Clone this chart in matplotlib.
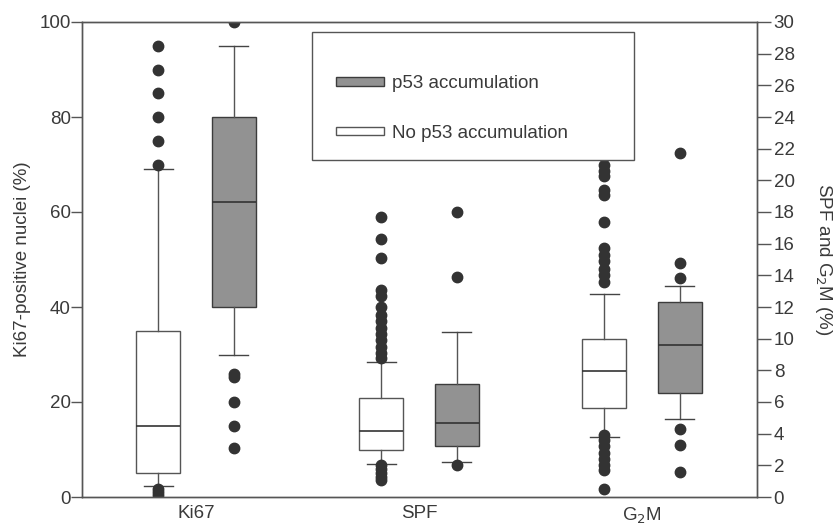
import matplotlib
matplotlib.use("Agg")
import matplotlib.pyplot as plt
from matplotlib.patches import Patch, Rectangle

plt.rcParams['font.family'] = ['Liberation Sans', 'DejaVu Sans']

# ---- data ----
groups = ["Ki67", "SPF", "G$_2$M"]
legend_labels = ["p53 accumulation", "No p53 accumulation"]

# Ki67 (left axis, %)
ki67_no = dict(q1=5.0, med=15.0, q3=35.0, whislo=2.3, whishi=69.0,
               fliers=[95, 90, 85, 80, 75, 70, 1.6, 1.0, 0.5])
ki67_p53 = dict(q1=40.0, med=62.2, q3=80.0, whislo=30.0, whishi=95.0,
                fliers=[100, 26, 25.3, 20, 15, 10.3])
# SPF (right axis, %)
spf_no = dict(q1=2.97, med=4.17, q3=6.25, whislo=2.08, whishi=8.5,
              fliers=[17.7, 16.3, 15.1, 13.1, 12.7, 12.0, 11.5, 11.1, 10.7,
                      10.3, 9.9, 9.5, 9.1, 8.8, 2.0, 1.75, 1.5, 1.25, 1.05])
spf_p53 = dict(q1=3.22, med=4.67, q3=7.14, whislo=2.2, whishi=10.4,
               fliers=[18.0, 13.9, 2.0])
# G2M (right axis, %)
g2m_no = dict(q1=5.65, med=7.98, q3=10.0, whislo=3.8, whishi=12.8,
              fliers=[21.0, 20.6, 20.3, 19.4, 19.1, 17.4, 15.7, 15.3, 14.9,
                      14.4, 14.0, 13.6, 3.9, 3.6, 3.2, 2.8, 2.4, 2.0, 1.7, 0.5])
g2m_p53 = dict(q1=6.55, med=9.6, q3=12.3, whislo=4.9, whishi=13.35,
               fliers=[21.7, 14.8, 13.85, 4.3, 3.3, 1.6])

left_ticks = [0, 20, 40, 60, 80, 100]
right_ticks = list(range(0, 31, 2))

# ---- styles ----
GRAY = '#929292'
EDGE = '#3c3c3c'
TXT = '#3a3a3a'
offset = 0.17
width = 0.20
capw = 0.13

fig = plt.figure(figsize=(8.37, 5.25), dpi=100)
ax = fig.add_axes([82/837, 1-497/525, (757-82)/837, (497-22)/525])
ax2 = ax.twinx()

common = dict(widths=width, capwidths=capw, patch_artist=True,
              whiskerprops=dict(color='#555555', lw=1.0),
              capprops=dict(color='#444444', lw=1.0),
              medianprops=dict(color='#333333', lw=1.2),
              flierprops=dict(marker='o', markersize=7.5,
                              markerfacecolor='#333333', markeredgecolor='#333333'))

def draw(axis, st, pos, fill):
    bp = axis.bxp([st], positions=[pos], **common)
    for b in bp['boxes']:
        b.set_facecolor(fill)
        b.set_edgecolor(EDGE if fill != 'white' else '#555555')
        b.set_linewidth(1.0)
    return bp

draw(ax, ki67_no, 1 - offset, 'white')
draw(ax, ki67_p53, 1 + offset, GRAY)
draw(ax2, spf_no, 2 - offset, 'white')
draw(ax2, spf_p53, 2 + offset, GRAY)
draw(ax2, g2m_no, 3 - offset, 'white')
draw(ax2, g2m_p53, 3 + offset, GRAY)

for a in (ax, ax2):
    a.set_xlim(0.489, 3.516)
ax.set_ylim(0, 100)
ax2.set_ylim(0, 30)

ax.set_xticks([1, 2, 3])
ax.set_xticklabels(groups, fontsize=13.5, color=TXT)
ax.tick_params(axis='x', length=0, pad=6)
ax.set_yticks(left_ticks)
ax.set_yticklabels([str(t) for t in left_ticks], fontsize=13.5, color=TXT)
ax.tick_params(axis='y', direction='out', length=8, width=1, color='#555555', pad=0)
ax2.set_yticks(right_ticks)
ax2.set_yticklabels([str(t) for t in right_ticks], fontsize=13.5, color=TXT)
ax2.tick_params(axis='y', direction='out', length=10, width=1, color='#555555', pad=2)

for a in (ax, ax2):
    for s in a.spines.values():
        s.set_color('#555555')
        s.set_linewidth(1.0)

ax.set_ylabel("Ki67-positive nuclei (%)", fontsize=13.5, color=TXT, labelpad=6)
ax2.set_ylabel("SPF and G$_2$M (%)", fontsize=13.5, color=TXT, rotation=270,
               labelpad=28)

# legend frame
frame = Rectangle(((312-82)/675, 1-(160-22)/475), (634-312)/675, (160-32)/475,
                  transform=ax2.transAxes, fill=True, facecolor='white',
                  edgecolor='#555555', lw=1.0, zorder=5)
ax2.add_patch(frame)
handles = [Patch(facecolor=GRAY, edgecolor=EDGE, lw=1.0),
           Patch(facecolor='white', edgecolor='#555555', lw=1.0)]
leg = ax2.legend(handles, legend_labels, frameon=False, fontsize=13.5,
                 handlelength=2.55, handleheight=0.35, labelspacing=1.75,
                 handletextpad=0.45, loc='upper left',
                 bbox_to_anchor=((319-82)/675, 1-(58-22)/475))
leg.set_zorder(6)
for t in leg.get_texts():
    t.set_color(TXT)

fig.savefig("out.png", dpi=100)
